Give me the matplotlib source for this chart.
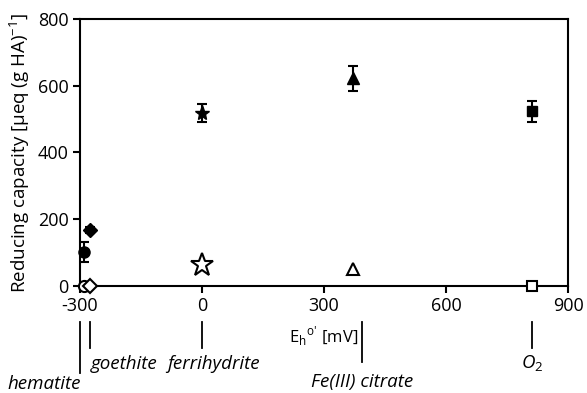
import matplotlib

matplotlib.use("Agg")

import matplotlib.pyplot as plt

# Acceptors: name, redox potential (mV) of the markers and of the label lines
ACCEPTORS = ["hematite", "goethite", "ferrihydrite", "Fe(III) citrate", "O$_2$"]
POTENTIALS = [-290, -275, 0, 371, 810]
LINE_POTENTIALS = [-300, -274, 0, 393, 811]
MARKERS = ["o", "D", "*", "^", "s"]

# Filled markers: reducing capacity with error, open markers: second series
FILLED_VALUES = [102, 168, 518, 622, 523]
FILLED_ERRORS = [30, 8, 27, 38, 31]
OPEN_VALUES = [0, 0, 62, 51, 0]

FILLED_SIZES = [8, 7, 11, 9, 7.5]
OPEN_SIZES = [8, 7, 17, 8, 7.5]


def main() -> None:
    plt.rcParams["font.family"] = ["Open Sans", "DejaVu Sans"]
    plt.rcParams["axes.unicode_minus"] = False
    plt.rcParams["mathtext.fontset"] = "custom"
    plt.rcParams["mathtext.rm"] = "Open Sans"
    fig = plt.figure(figsize=(5.87, 3.93), dpi=100)
    ax = fig.add_axes([0.136, 0.272, 0.832, 0.68])

    for x, y, err, marker, size in zip(
        POTENTIALS, FILLED_VALUES, FILLED_ERRORS, MARKERS, FILLED_SIZES
    ):
        ax.errorbar(
            x, y, yerr=err, fmt=marker, color="black", markersize=size,
            capsize=3.5, elinewidth=1.5, capthick=1.5, clip_on=False, zorder=3,
        )

    for x, y, marker, size in zip(POTENTIALS, OPEN_VALUES, MARKERS, OPEN_SIZES):
        ax.plot(
            x, y, marker=marker, linestyle="none", markersize=size,
            markerfacecolor="white", markeredgecolor="black",
            markeredgewidth=1.5, clip_on=False, zorder=4,
        )

    ax.set_xlim(-300, 900)
    ax.set_ylim(0, 800)
    ax.set_xticks([-300, 0, 300, 600, 900])
    ax.set_yticks([0, 200, 400, 600, 800])
    ax.tick_params(direction="out", length=5, width=1.5, labelsize=13, pad=3)
    for spine in ax.spines.values():
        spine.set_linewidth(1.5)

    ax.set_ylabel("Reducing capacity [µeq (g HA)$^\\mathregular{-1}$]",
                  fontsize=13.5, labelpad=4)

    trans = ax.get_xaxis_transform()
    ax.text(
        383, -0.188, r"E$_\mathregular{h}$$^\mathregular{o}$$^\text{'}$ [mV]",
        transform=trans, ha="right", va="center", fontsize=12,
    )

    # Annotation lines below the axis
    line_bottoms = [-0.326, -0.232, -0.232, -0.285, -0.232]
    label_x = [-388, -272, 29, 393, 811]
    label_y = [-0.365, -0.29, -0.29, -0.357, -0.29]
    label_ha = ["center", "left", "center", "center", "center"]
    for x, bottom, name, lx, ly, ha in zip(
        LINE_POTENTIALS, line_bottoms, ACCEPTORS, label_x, label_y, label_ha
    ):
        ax.plot([x, x], [-0.135, bottom], color="black", linewidth=1.3,
                transform=trans, clip_on=False)
        ax.text(lx, ly, name, transform=trans, ha=ha, va="center",
                fontsize=13.5, style="italic")

    fig.savefig("out.png", dpi=100)
    plt.close(fig)


if __name__ == "__main__":
    main()
